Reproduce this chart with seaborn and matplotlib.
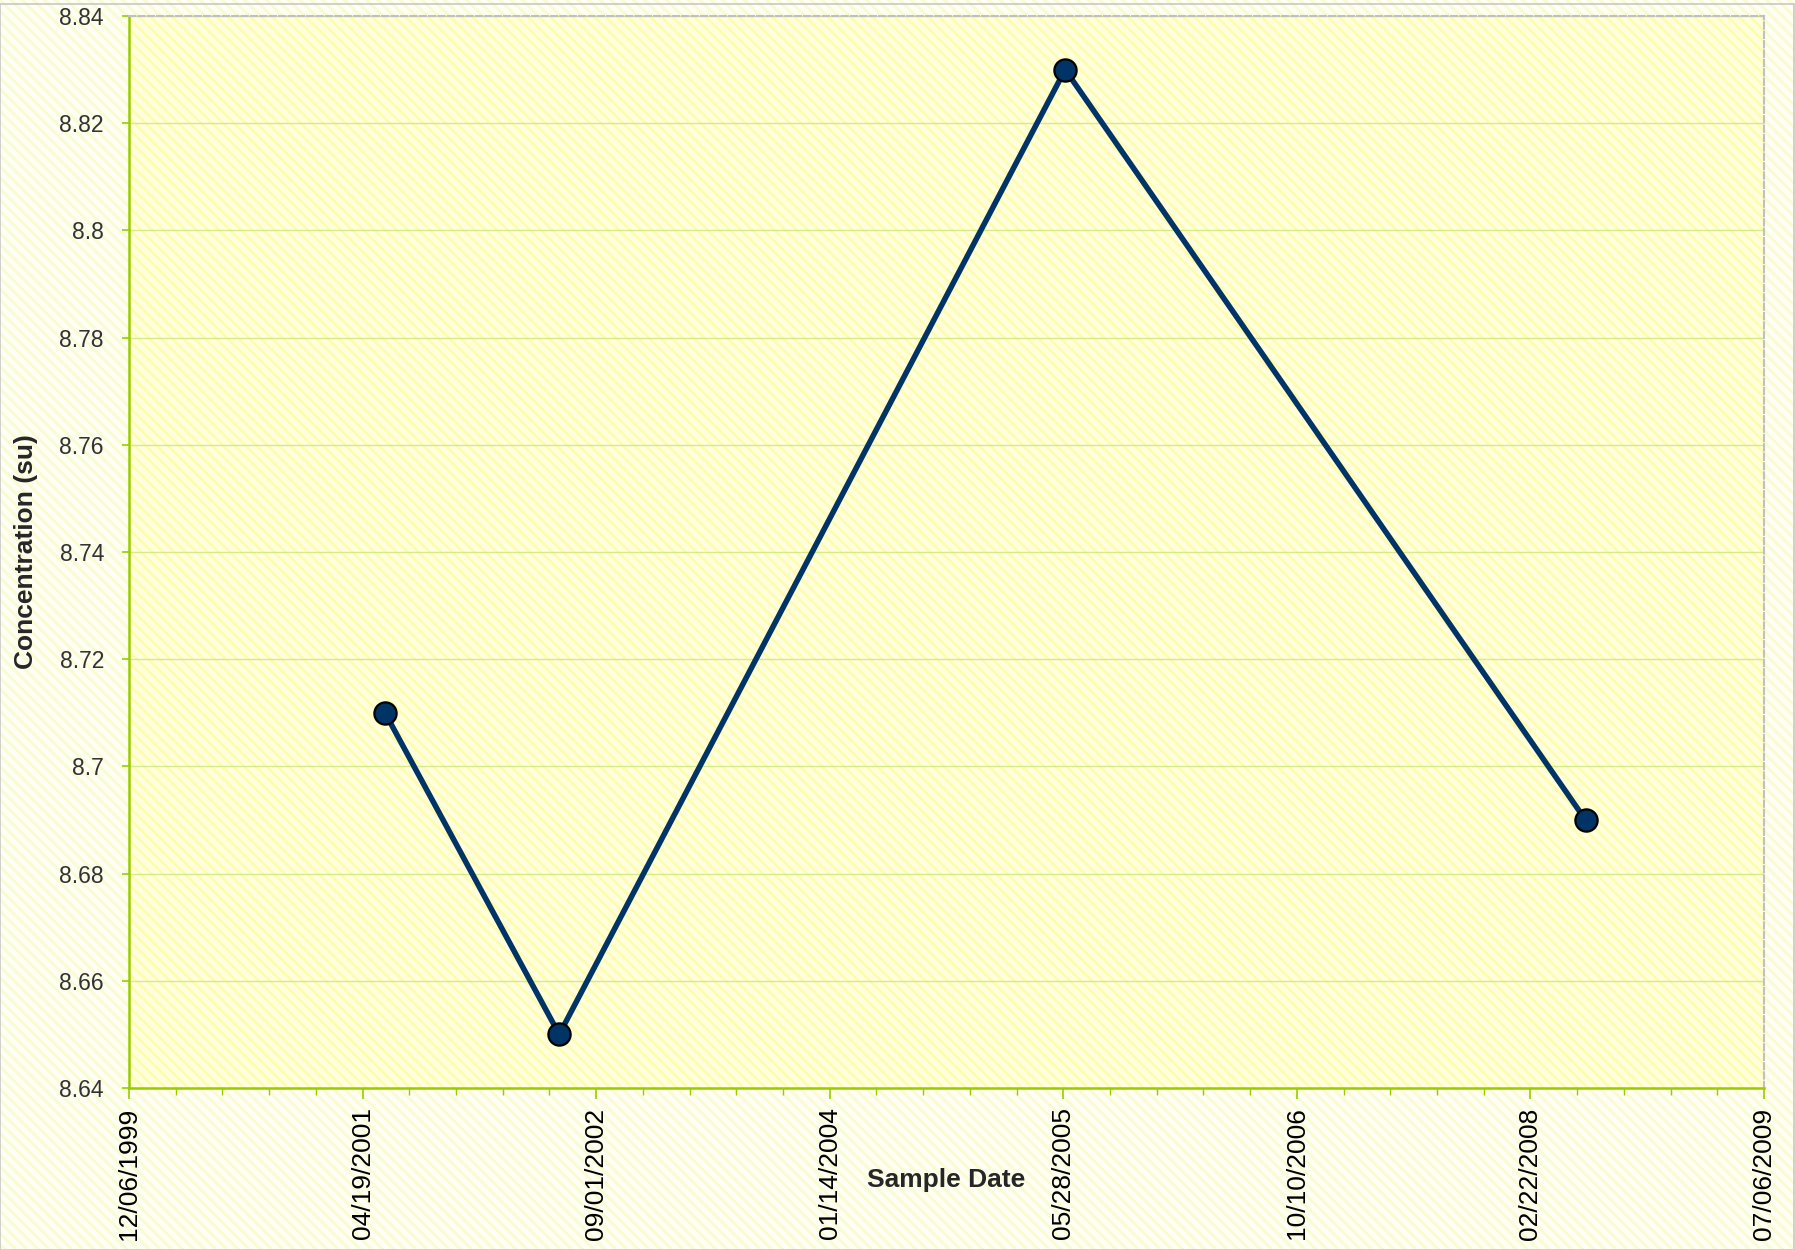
import matplotlib
matplotlib.use("Agg")
import matplotlib.pyplot as plt
import matplotlib.dates as mdates
from matplotlib.patches import Rectangle
from matplotlib.ticker import FuncFormatter, MultipleLocator
import pandas as pd
import seaborn as sns

# --- data -----------------------------------------------------------------
sample_dates = ["2001-06-06", "2002-06-14", "2005-06-01", "2008-06-19"]
concentration = [8.71, 8.65, 8.83, 8.69]

x_start = "1999-12-06"
x_end = "2009-07-06"
tick_step_days = 500
y_min, y_max, y_step = 8.64, 8.84, 0.02

x_label = "Sample Date"
y_label = "Concentration (su)"

# --- style ----------------------------------------------------------------
sns.set_style("white")
plt.rcParams["font.family"] = ["Liberation Sans", "DejaVu Sans"]
plt.rcParams["hatch.linewidth"] = 2.0

LINE_COLOR = "#003366"
SPINE_GREEN = "#99cc00"
GRID_GREEN = "#d4ea8c"

df = pd.DataFrame({"date": pd.to_datetime(sample_dates), "value": concentration})

fig = plt.figure(figsize=(17.95, 12.5), dpi=100)
fig.patch.set_facecolor("#fefef2")
fig.patch.set_edgecolor("#fafad4")
fig.patch.set_hatch("\\\\\\")
fig.patch.set_linewidth(0)

ax = fig.add_axes([129 / 1795, 1 - 1088 / 1250, (1764 - 129) / 1795, (1088 - 16) / 1250])
ax.patch.set_facecolor("#ffffde")
ax.patch.set_edgecolor("#fffcb0")
ax.patch.set_hatch("\\\\\\")
ax.patch.set_linewidth(0)

sns.lineplot(
    data=df, x="date", y="value", ax=ax, sort=False,
    color=LINE_COLOR, linewidth=4.0, marker="o", markersize=16,
    markerfacecolor=LINE_COLOR, markeredgecolor="black", markeredgewidth=1.6,
    zorder=5,
)

# x axis: dates every 500 days, minor every 100
start = pd.Timestamp(x_start)
end = pd.Timestamp(x_end)
major = pd.date_range(start, end, freq=f"{tick_step_days}D")
minor = pd.date_range(start, end, freq=f"{tick_step_days // 5}D")
ax.set_xlim(mdates.date2num(start), mdates.date2num(end))
ax.set_xticks(mdates.date2num(major))
ax.set_xticks(mdates.date2num(minor), minor=True)
ax.set_xticklabels([d.strftime("%m/%d/%Y") for d in major], rotation=90,
                   fontsize=19, va="top")

# y axis
ax.set_ylim(y_min, y_max)
ax.yaxis.set_major_locator(MultipleLocator(y_step))
ax.yaxis.set_major_formatter(FuncFormatter(lambda v, _: f"{v:.2f}".rstrip("0").rstrip(".")))
ax.tick_params(axis="y", labelsize=16.5, colors=SPINE_GREEN, labelcolor="#333333",
               length=5, width=1.2, direction="out", left=True, pad=13)
ax.tick_params(axis="x", which="major", colors=SPINE_GREEN, labelcolor="black",
               length=8, width=1.2, direction="out", bottom=True, pad=6)
ax.tick_params(axis="x", which="minor", colors=SPINE_GREEN, length=5, width=1.0,
               direction="out", bottom=True)

ax.yaxis.grid(True, color=GRID_GREEN, linewidth=1.0)
ax.xaxis.grid(False)
ax.set_axisbelow(True)

for side in ["left", "bottom"]:
    ax.spines[side].set_color(SPINE_GREEN)
    ax.spines[side].set_linewidth(1.8)
for side in ["top", "right"]:
    ax.spines[side].set_color("#c0c0c0")
    ax.spines[side].set_linewidth(1.5)
    ax.spines[side].set_linestyle((0, (3, 1.5)))
    ax.spines[side].set_visible(True)

ax.set_xlabel(x_label, fontsize=19, fontweight="bold")
ax.set_ylabel(y_label, fontsize=19, fontweight="bold")
ax.xaxis.set_label_coords(0.5, -(1168 - 1088) / 1072)
ax.yaxis.set_label_coords(-(129 - 38) / 1635, 0.5)

# chart area border
fig.patches.append(Rectangle((0, 0), 1 - 1 / 1795, 1 - 4 / 1250, transform=fig.transFigure,
                             fill=False, edgecolor="#c8c8c8", linewidth=1.2))

fig.savefig("out.png", dpi=100, facecolor=fig.get_facecolor())
